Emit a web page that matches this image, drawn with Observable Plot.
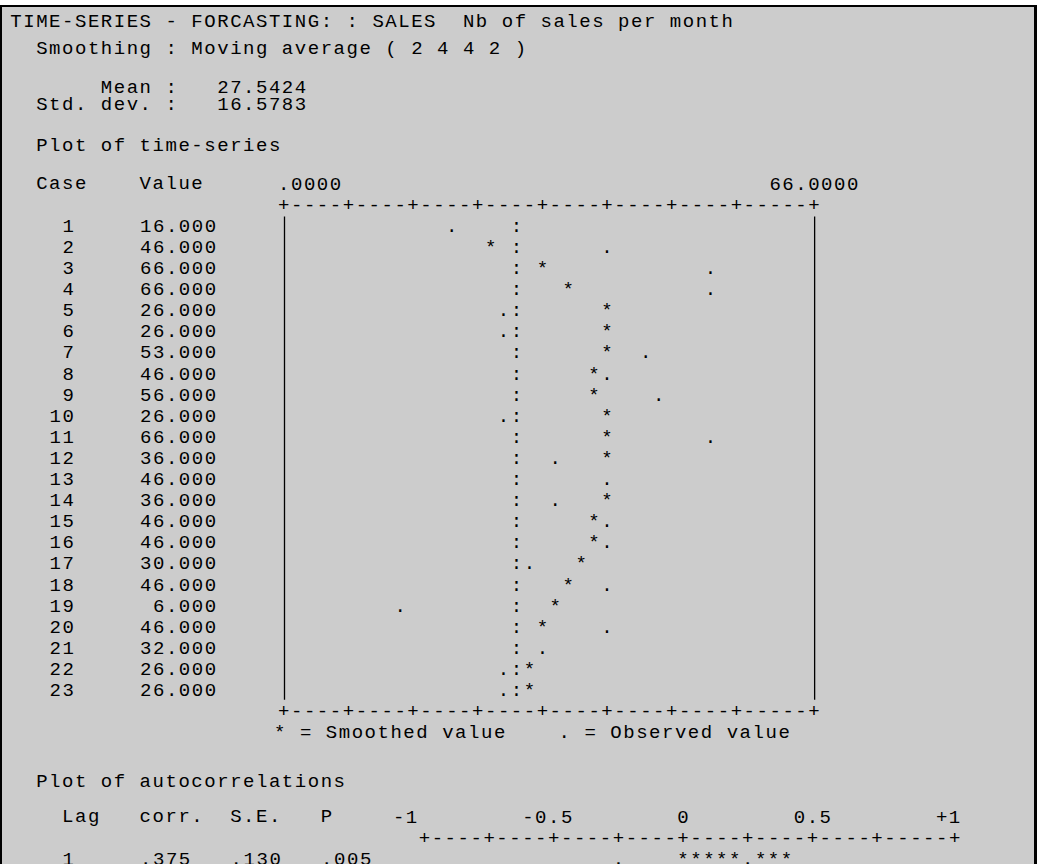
<!DOCTYPE html>
<html>
<head>
<meta charset="utf-8">
<script src="https://cdn.jsdelivr.net/npm/d3@7"></script>
<script src="https://cdn.jsdelivr.net/npm/@observablehq/plot@0.6"></script>
<style>
  html, body { margin: 0; padding: 0; background: #fff; overflow: hidden; }
  #page { position: relative; width: 1038px; height: 864px; overflow: hidden; background: #fff; }
  #frame { position: absolute; left: 0; top: 5px; width: 1037px; height: 900px; box-sizing: border-box;
           background: #cccccc; border-left: 2px solid #000; border-top: 2px solid #000; border-right: 3px solid #000; }
  .line { position: absolute; font-family: "Liberation Mono", "DejaVu Sans Mono", monospace;
          white-space: pre; color: #000; }
  .box { position: absolute; left: 0; }
</style>
</head>
<body>
<div id="page"><div id="frame"></div></div>
<script>
// ---------------- data ----------------
const cases    = d3.range(1, 24);
const values   = [16, 46, 66, 66, 26, 26, 53, 46, 56, 26, 66, 36, 46, 36, 46, 46, 30, 46, 6, 46, 32, 26, 26];
const smoothed = [null, 22.5, 32.5, 37.5, 45, 45, 45, 42.5, 42.5, 45, 45, 45, 45, 45, 42.5, 42.5, 40, 37.5, 35, 32.5, 32.5, 30, 30];
const seriesMean = 27.5424;
const seriesStd  = 16.5783;
const rangeLabels = [".0000", "66.0000"];
const legendText = "* = Smoothed value    . = Observed value";

const lags    = [1];
const corrs   = [0.375];
const stdErrs = [0.130];
const pValues = [0.005];
const acTicks      = [-1, -0.5, 0, 0.5, 1];
const acTickLabels = ["-1", "-0.5", "0", "0.5", "+1"];

// ---------------- character-grid layout ----------------
const FONT = 19, CW = 12.93, X0 = 10.3, LINE = 21.1;
const LS = +(CW - 0.6 * FONT).toFixed(3);            // letter spacing so one cell = CW
const FONT_FAMILY = '"Liberation Mono", "DejaVu Sans Mono", monospace';
const ASCENT_OFF = FONT / 2 + FONT * (0.8325 - 0.3003) / 2;   // baseline inside a line box of height FONT

const page = document.getElementById("page");
function addLine(text, baseline) {
  const div = document.createElement("div");
  div.className = "line";
  div.textContent = text;
  div.style.fontSize = FONT + "px";
  div.style.lineHeight = FONT + "px";
  div.style.letterSpacing = LS + "px";
  div.style.left = X0 + "px";
  div.style.top = (baseline - ASCENT_OFF) + "px";
  page.appendChild(div);
}
const f4 = d3.format(".4f");
addLine("TIME-SERIES - FORCASTING: : SALES  Nb of sales per month", 27.3);
addLine("  Smoothing : Moving average ( 2 4 4 2 )", 55);
addLine("       Mean :   " + f4(seriesMean), 94);
addLine("  Std. dev. :   " + f4(seriesStd), 111);
addLine("  Plot of time-series", 151.7);
addLine("  Case    Value", 189.1);
addLine("  Plot of autocorrelations", 787.3);
addLine("    Lag   corr.  S.E.   P", 822.7);

const plotStyle = {
  fontFamily: FONT_FAMILY, fontSize: FONT + "px", letterSpacing: LS + "px",
  whiteSpace: "pre", background: "transparent", color: "#000", overflow: "visible"
};
function place(svg, top) {
  const wrap = document.createElement("div");
  wrap.className = "box";
  wrap.style.top = top + "px";
  wrap.appendChild(svg);
  page.appendChild(wrap);
}

// ---------------- time-series plot ----------------
const TS_TOP = 160, TS_H = 600;
const ROW1 = 231.3;                          // baseline of case 1 on the page
const AX0 = 284;                             // centre of the first axis cell
const NCOL = 41;
const ZERO_COL = 7, COLS_PER_UNIT = 0.4;     // the printout's own scaling
const xStep = 1 / COLS_PER_UNIT;
const xLo = -ZERO_COL * xStep;
const xHi = xLo + NCOL * xStep;
const cellOf = v => Math.round((v - xLo) / xStep);
const snap = v => xLo + cellOf(v) * xStep;

const axisTickCols = [0, 5, 10, 15, 20, 25, 30, 35, 41];
const axisString = d3.range(NCOL + 1).map(i => axisTickCols.includes(i) ? "+" : "-").join("");
const rangeLabelCols = [0, 38];

const rows = cases.map((c, i) => ({case: c, value: values[i], smooth: smoothed[i]}));
const starRows = rows.filter(d => d.smooth != null && cellOf(d.smooth) !== cellOf(d.value));

const y0 = ROW1 - LINE - TS_TOP;             // row 0 (top axis) baseline inside the svg
const y24 = ROW1 + 23 * LINE - TS_TOP;       // row 24 (bottom axis)

const ts = Plot.plot({
  width: 1038, height: TS_H,
  marginLeft: AX0, marginRight: 1038 - (AX0 + NCOL * CW),
  marginTop: y0, marginBottom: TS_H - y24,
  x: {domain: [xLo, xHi], axis: null},
  y: {domain: [0, 24], reverse: true},
  style: plotStyle,
  marks: [
    Plot.ruleX([xLo, xHi], {y1: 0.3, y2: 23.2, stroke: "#000", strokeWidth: 1.3}),
    Plot.text([0, 24], {x: () => xLo, y: d => d, text: () => axisString, textAnchor: "start", lineAnchor: "bottom", dx: -CW / 2}),
    Plot.text(rangeLabels, {x: (d, i) => xLo + rangeLabelCols[i] * xStep, y: () => -1, text: d => d, textAnchor: "start", lineAnchor: "bottom", dx: -CW / 2}),
    Plot.text(cases, {x: () => snap(seriesMean), y: d => d, text: () => ":", lineAnchor: "bottom"}),
    Plot.text(starRows, {x: d => snap(d.smooth), y: "case", text: () => "*", lineAnchor: "bottom"}),
    Plot.text(rows, {x: d => snap(d.value), y: "case", text: () => ".", lineAnchor: "bottom"}),
    Plot.text([legendText], {x: () => xLo, y: () => 25, text: d => d, textAnchor: "start", lineAnchor: "bottom", dx: -CW / 2 - 4}),
    Plot.axisY(cases, {
      tickSize: 0, tickPadding: AX0 - (X0 + 16 * CW), label: null,
      textAnchor: "end", lineAnchor: "bottom",
      tickFormat: c => String(c).padStart(5) + values[c - 1].toFixed(3).padStart(11)
    })
  ]
});
place(ts, TS_TOP);

// ---------------- autocorrelation plot ----------------
const AC_TOP = 800, AC_H = 80;
const AC_ZERO_X = 683.3;
const acStep = 0.05;                                  // one character cell
const acLeft = AC_ZERO_X - 20 * CW, acRight = AC_ZERO_X + 20 * CW;
const AC_AXIS_BASE = 843.8;
const acLabelStartCols = [-2, -2, 0, -1, 0];          // where each printed label starts, relative to its tick cell
const fmt3 = v => d3.format(".3f")(v).replace(/^(-?)0\./, "$1.");

const acRows = lags.map((lag, i) => ({lag, corr: corrs[i], se: stdErrs[i], p: pValues[i]}));
const acStars = [], acDots = [];
for (const r of acRows) {
  const n = Math.round(r.corr / acStep);
  const seCell = Math.round(2 * r.se / acStep);
  const sgn = n < 0 ? -1 : 1;
  for (let k = 0; k <= Math.abs(n); k++) {
    if (k !== seCell) acStars.push({lag: r.lag, x: sgn * k * acStep});
  }
  acDots.push({lag: r.lag, x: -seCell * acStep}, {lag: r.lag, x: seCell * acStep});
}

const ac = Plot.plot({
  width: 1038, height: AC_H,
  marginLeft: acLeft, marginRight: 1038 - acRight,
  marginTop: AC_AXIS_BASE - AC_TOP, marginBottom: AC_H - (AC_AXIS_BASE + lags.length * LINE - AC_TOP),
  x: {domain: [-1, 1], axis: null},
  y: {domain: [0, lags.length], reverse: true},
  style: plotStyle,
  marks: [
    Plot.text([0], {x: () => -1, y: d => d, text: () => axisString, textAnchor: "start", lineAnchor: "bottom", dx: -CW / 2}),
    Plot.text(acTicks, {x: (d, i) => d + acLabelStartCols[i] * acStep, y: () => -1, text: (d, i) => acTickLabels[i],
                        textAnchor: "start", lineAnchor: "bottom", dx: -CW / 2}),
    Plot.text(acStars, {x: "x", y: "lag", text: () => "*", lineAnchor: "bottom"}),
    Plot.text(acDots, {x: "x", y: "lag", text: () => ".", lineAnchor: "bottom"}),
    Plot.axisY(lags, {
      tickSize: 0, tickPadding: acLeft - (X0 + 28 * CW), label: null,
      textAnchor: "end", lineAnchor: "bottom",
      tickFormat: lag => {
        const r = acRows.find(d => d.lag === lag);
        return String(lag).padStart(5) + fmt3(r.corr).padStart(9) + fmt3(r.se).padStart(7) + fmt3(r.p).padStart(7);
      }
    })
  ]
});
place(ac, AC_TOP);
</script>
</body>
</html>
